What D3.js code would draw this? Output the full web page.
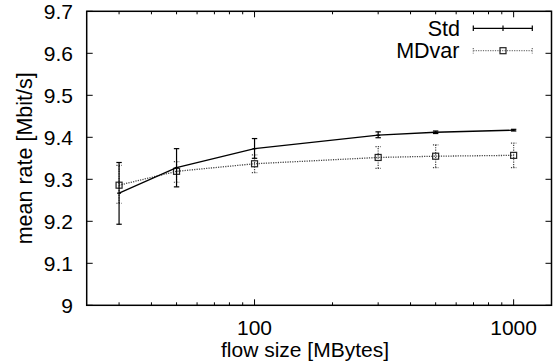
<!DOCTYPE html>
<html><head><meta charset="utf-8">
<script src="https://cdn.jsdelivr.net/npm/d3@7"></script>
<style>body{margin:0;background:#fff}svg{display:block}text{font-family:"Liberation Sans",Arial,sans-serif;fill:#000}</style>
</head><body><svg id="c" width="553" height="364"></svg>
<script>
const sizes = [30, 50, 100, 300, 500, 1000];
const stdMean = [9.267, 9.328, 9.373, 9.405, 9.412, 9.417];
const stdLow  = [9.193, 9.282, 9.350, 9.399, 9.409, 9.415];
const stdHigh = [9.340, 9.373, 9.397, 9.413, 9.415, 9.419];
const mdMean  = [9.286, 9.319, 9.337, 9.352, 9.355, 9.357];
const mdLow   = [9.243, 9.293, 9.316, 9.326, 9.328, 9.328];
const mdHigh  = [9.333, 9.342, 9.358, 9.378, 9.382, 9.386];
const yTicks = [9, 9.1, 9.2, 9.3, 9.4, 9.5, 9.6, 9.7];
const yTickLabels = ["9", "9.1", "9.2", "9.3", "9.4", "9.5", "9.6", "9.7"];
const xMajor = [100, 1000];
const xMinor = [30, 40, 50, 60, 70, 80, 90, 200, 300, 400, 500, 600, 700, 800, 900];
const seriesNames = ["Std", "MDvar"];

const L = 86.7, R = 551.5, T = 11.3, B = 305.3;
const svg = d3.select("#c");
const x = d3.scaleLog().domain([22.5, 1400]).range([L, R]);
const y = d3.scaleLinear().domain([9, 9.7]).range([B, T]);

// ticks
const g = svg.append("g").attr("stroke", "#000").attr("stroke-width", 1);
yTicks.forEach(v => {
  g.append("line").attr("x1", L).attr("x2", L + 6).attr("y1", y(v)).attr("y2", y(v));
  g.append("line").attr("x1", R).attr("x2", R - 6).attr("y1", y(v)).attr("y2", y(v));
});
xMajor.forEach(v => {
  g.append("line").attr("x1", x(v)).attr("x2", x(v)).attr("y1", B).attr("y2", B - 6);
  g.append("line").attr("x1", x(v)).attr("x2", x(v)).attr("y1", T).attr("y2", T + 6);
});
xMinor.forEach(v => {
  g.append("line").attr("x1", x(v)).attr("x2", x(v)).attr("y1", B).attr("y2", B - 3);
  g.append("line").attr("x1", x(v)).attr("x2", x(v)).attr("y1", T).attr("y2", T + 3);
});

// tick labels
yTicks.forEach((v, i) => {
  svg.append("text").attr("x", 73).attr("y", y(v) + 7.5).attr("text-anchor", "end")
    .attr("font-size", 21).text(yTickLabels[i]);
});
xMajor.forEach(v => {
  svg.append("text").attr("x", x(v)).attr("y", 335).attr("text-anchor", "middle")
    .attr("font-size", 21).text(String(v));
});
svg.append("text").attr("x", 305).attr("y", 357).attr("text-anchor", "middle")
  .attr("font-size", 21).text("flow size [MBytes]");
svg.append("text").attr("transform", `translate(32,${(T + B) / 2}) rotate(-90)`)
  .attr("text-anchor", "middle").attr("font-size", 21.5).text("mean rate [Mbit/s]");

const mdData = sizes.map((s, i) => ({ s, m: mdMean[i], lo: mdLow[i], hi: mdHigh[i] }));
const stdData = sizes.map((s, i) => ({ s, m: stdMean[i], lo: stdLow[i], hi: stdHigh[i] }));
const line = d3.line().x(d => x(d.s)).y(d => y(d.m));

// MDvar series
const md = svg.append("g");
md.append("path").datum(mdData).attr("d", line).attr("fill", "none")
  .attr("stroke", "#444").attr("stroke-width", 1.3).attr("stroke-dasharray", "1.2,1.2");
mdData.forEach(d => {
  const e = md.append("g").attr("stroke", "#444").attr("stroke-width", 1.2).attr("stroke-dasharray", "1.2,1.2");
  e.append("line").attr("x1", x(d.s)).attr("x2", x(d.s)).attr("y1", y(d.lo)).attr("y2", y(d.hi));
  e.append("line").attr("x1", x(d.s) - 2.7).attr("x2", x(d.s) + 2.7).attr("y1", y(d.lo)).attr("y2", y(d.lo));
  e.append("line").attr("x1", x(d.s) - 2.7).attr("x2", x(d.s) + 2.7).attr("y1", y(d.hi)).attr("y2", y(d.hi));
  md.append("rect").attr("x", x(d.s) - 3).attr("y", y(d.m) - 3).attr("width", 6).attr("height", 6)
    .attr("fill", "none").attr("stroke", "#222").attr("stroke-width", 1.2);
});

// Std series
const st = svg.append("g");
st.append("path").datum(stdData).attr("d", line).attr("fill", "none")
  .attr("stroke", "#000").attr("stroke-width", 1.3);
stdData.forEach(d => {
  const e = st.append("g").attr("stroke", "#000").attr("stroke-width", 1.2);
  e.append("line").attr("x1", x(d.s)).attr("x2", x(d.s)).attr("y1", y(d.lo)).attr("y2", y(d.hi));
  e.append("line").attr("x1", x(d.s) - 2.7).attr("x2", x(d.s) + 2.7).attr("y1", y(d.lo)).attr("y2", y(d.lo));
  e.append("line").attr("x1", x(d.s) - 2.7).attr("x2", x(d.s) + 2.7).attr("y1", y(d.hi)).attr("y2", y(d.hi));
  e.append("line").attr("x1", x(d.s) - 2).attr("x2", x(d.s) + 2).attr("y1", y(d.m)).attr("y2", y(d.m));
});

// legend
const lx1 = 473.3, lx2 = 532.3, lxm = 503;
const legY = [28.3, 50.7];
svg.append("text").attr("x", 460).attr("y", 36).attr("text-anchor", "end").attr("font-size", 21.5).text(seriesNames[0]);
svg.append("text").attr("x", 459.5).attr("y", 58).attr("text-anchor", "end").attr("font-size", 21.5).text(seriesNames[1]);
const lg0 = svg.append("g").attr("stroke", "#000").attr("stroke-width", 1.2);
lg0.append("line").attr("x1", lx1).attr("x2", lx2).attr("y1", legY[0]).attr("y2", legY[0]);
[lx1, lx2, lxm].forEach(v => lg0.append("line").attr("x1", v).attr("x2", v).attr("y1", legY[0] - 2.7).attr("y2", legY[0] + 2.7));
const lg1 = svg.append("g").attr("stroke", "#777").attr("stroke-width", 1.3).attr("stroke-dasharray", "1.2,1.2");
lg1.append("line").attr("x1", lx1).attr("x2", lx2).attr("y1", legY[1]).attr("y2", legY[1]);
[lx1, lx2].forEach(v => lg1.append("line").attr("x1", v).attr("x2", v).attr("y1", legY[1] - 2.7).attr("y2", legY[1] + 2.7));
svg.append("rect").attr("x", lxm - 3).attr("y", legY[1] - 3).attr("width", 6).attr("height", 6)
  .attr("fill", "none").attr("stroke", "#222").attr("stroke-width", 1.2);

// frame
svg.append("rect").attr("x", L).attr("y", T).attr("width", R - L).attr("height", B - T)
  .attr("fill", "none").attr("stroke", "#000").attr("stroke-width", 1.5);
</script></body></html>
